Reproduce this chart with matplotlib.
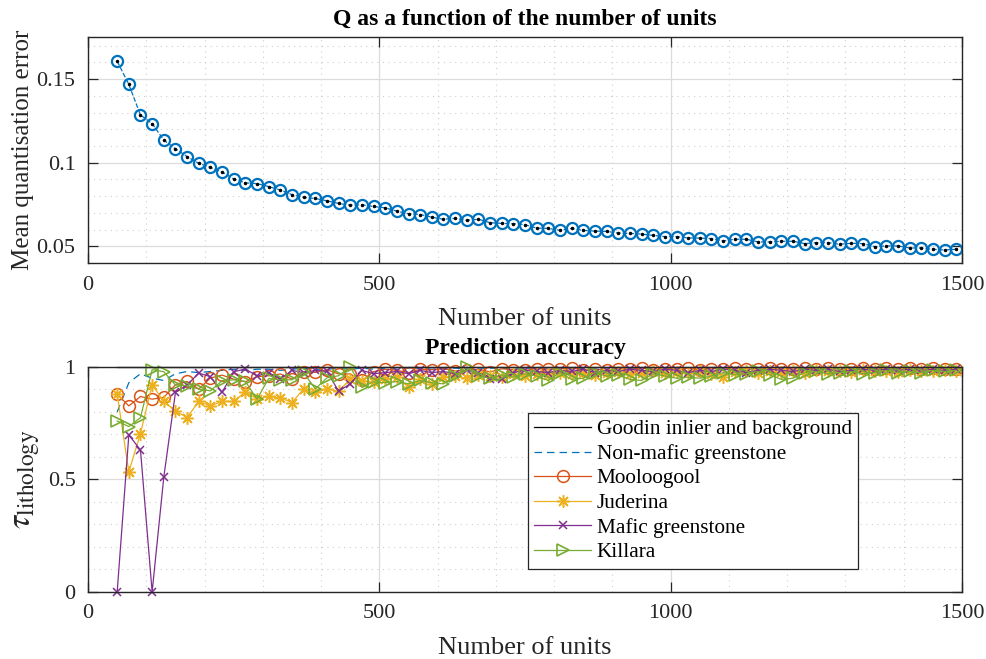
import matplotlib
matplotlib.use("Agg")
import matplotlib.pyplot as plt
from matplotlib.ticker import MultipleLocator

plt.rcParams['font.family'] = ['Liberation Serif', 'DejaVu Serif']
plt.rcParams['mathtext.fontset'] = 'stix'

# number of units (same grid for both panels)
units = list(range(50, 1500, 20))

q_error = [0.1607, 0.1468, 0.1285, 0.1234, 0.1135, 0.1083, 0.1037, 0.0996, 0.0972, 0.0944,
           0.0903, 0.0879, 0.0875, 0.0857, 0.0837, 0.0809, 0.0793, 0.0786, 0.0772, 0.0756,
           0.0746, 0.0748, 0.0738, 0.0730, 0.0710, 0.0695, 0.0690, 0.0674, 0.0662, 0.0667,
           0.0655, 0.0662, 0.0641, 0.0637, 0.0635, 0.0629, 0.0609, 0.0607, 0.0595, 0.0607,
           0.0595, 0.0591, 0.0589, 0.0579, 0.0577, 0.0573, 0.0565, 0.0558, 0.0558, 0.0550,
           0.0549, 0.0546, 0.0532, 0.0542, 0.0542, 0.0526, 0.0526, 0.0530, 0.0530, 0.0516,
           0.0522, 0.0522, 0.0512, 0.0518, 0.0516, 0.0498, 0.0502, 0.0502, 0.0490, 0.0490,
           0.0482, 0.0478, 0.0482]

goodin = [1.0] * 73

non_mafic = [0.80, 0.93, 0.97, 0.95, 0.94, 0.97, 0.98, 0.975, 0.98, 0.985,
             0.99, 0.985, 0.99, 0.99, 0.985, 0.99, 0.995, 0.99, 0.99, 0.995,
             0.99, 0.995, 0.99, 0.995, 0.99, 0.995, 0.995, 0.99, 0.995, 0.995,
             0.99, 0.995, 0.995, 0.995, 0.99, 0.995, 0.995, 0.995, 0.995, 0.99,
             0.995, 0.995, 0.995, 0.995, 0.995, 0.995, 0.99, 0.995, 0.995, 0.995,
             0.995, 0.995, 0.995, 0.995, 0.995, 0.995, 0.995, 0.995, 0.995, 0.995,
             0.995, 0.995, 0.995, 0.995, 0.995, 0.995, 0.995, 0.995, 0.995, 0.995,
             0.995, 0.995, 0.995]

mooloogool = [0.879, 0.827, 0.869, 0.857, 0.865, 0.921, 0.936, 0.902, 0.951, 0.964,
              0.946, 0.934, 0.957, 0.961, 0.969, 0.946, 0.979, 0.976, 0.988, 0.969,
              0.969, 0.940, 0.979, 0.990, 0.985, 0.975, 0.990, 0.988, 0.992, 0.983,
              0.985, 0.990, 0.978, 0.992, 0.988, 0.985, 0.993, 0.990, 0.992, 0.995,
              0.988, 0.990, 0.985, 0.993, 0.990, 0.995, 0.988, 0.992, 0.990, 0.995,
              0.988, 0.993, 0.990, 0.995, 0.992, 0.990, 0.995, 0.993, 0.990, 0.995,
              0.992, 0.995, 0.990, 0.993, 0.995, 0.992, 0.995, 0.993, 0.995, 0.990,
              0.995, 0.993, 0.992]

juderina = [0.879, 0.534, 0.704, 0.921, 0.847, 0.805, 0.775, 0.847, 0.827, 0.847,
            0.847, 0.890, 0.857, 0.869, 0.862, 0.842, 0.902, 0.887, 0.902, 0.893,
            0.946, 0.939, 0.932, 0.945, 0.955, 0.910, 0.945, 0.925, 0.955, 0.960,
            0.950, 0.965, 0.960, 0.955, 0.968, 0.960, 0.970, 0.965, 0.972, 0.968,
            0.975, 0.965, 0.972, 0.978, 0.970, 0.975, 0.980, 0.972, 0.978, 0.975,
            0.980, 0.970, 0.955, 0.978, 0.982, 0.975, 0.980, 0.978, 0.982, 0.975,
            0.985, 0.980, 0.982, 0.978, 0.985, 0.980, 0.983, 0.978, 0.985, 0.982,
            0.980, 0.985, 0.983]

mafic = [0.0, 0.698, 0.631, 0.0, 0.510, 0.887, 0.920, 0.973, 0.957, 0.887,
         0.979, 0.991, 0.960, 0.975, 0.946, 0.985, 0.975, 0.985, 0.980, 0.893,
         0.925, 0.985, 0.970, 0.975, 0.980, 0.970, 0.985, 0.975, 0.980, 0.970,
         0.985, 0.975, 0.945, 0.945, 0.975, 0.985, 0.980, 0.975, 0.985, 0.980,
         0.990, 0.975, 0.985, 0.980, 0.990, 0.985, 0.980, 0.990, 0.985, 0.975,
         0.985, 0.980, 0.990, 0.985, 0.975, 0.985, 0.990, 0.985, 0.980, 0.990,
         0.985, 0.990, 0.980, 0.985, 0.990, 0.985, 0.990, 0.985, 0.990, 0.985,
         0.990, 0.985, 0.990]

killara = [0.760, 0.735, 0.775, 0.988, 0.979, 0.920, 0.917, 0.902, 0.894, 0.939,
           0.943, 0.936, 0.857, 0.949, 0.943, 0.943, 0.976, 0.902, 0.952, 0.961,
           1.000, 0.910, 0.934, 0.930, 0.935, 0.925, 0.940, 0.930, 0.925, 0.960,
           1.000, 0.960, 0.950, 0.965, 0.955, 0.970, 0.960, 0.940, 0.975, 0.945,
           0.950, 0.975, 0.960, 0.965, 0.945, 0.940, 0.970, 0.960, 0.950, 0.955,
           0.950, 0.960, 0.975, 0.965, 0.970, 0.980, 0.965, 0.945, 0.950, 0.975,
           0.980, 0.970, 0.975, 0.980, 0.970, 0.975, 0.985, 0.975, 0.980, 0.975,
           0.985, 0.980, 0.985]

blue = '#0072BD'
orange = '#D95319'
yellow = '#EDB120'
purple = '#7E2F8E'
green = '#77AC30'

fig = plt.figure(figsize=(9.87, 6.59), dpi=100)
ax1 = fig.add_axes([0.0892, 0.6009, 0.8855, 0.3425])
ax2 = fig.add_axes([0.0892, 0.1017, 0.8855, 0.3414])


def style(ax):
    ax.set_xlim(0, 1500)
    ax.xaxis.set_major_locator(MultipleLocator(500))
    ax.xaxis.set_minor_locator(MultipleLocator(100))
    ax.grid(which='major', color='#dcdcdc', linewidth=0.9)
    ax.grid(which='minor', color='#cfcfcf', linestyle=(0, (1, 4)), linewidth=0.8)
    ax.set_axisbelow(True)
    ax.tick_params(which='major', direction='in', length=7, width=0.9,
                   top=True, right=True, labelsize=16, pad=9, colors='#262626')
    ax.tick_params(which='minor', length=0, top=False, right=False, bottom=False, left=False)
    for s in ax.spines.values():
        s.set_color('#262626')
        s.set_linewidth(1.0)
    ax.set_xlabel('Number of units', fontsize=19, color='#262626', labelpad=10)


# top panel
ax1.plot(units, q_error, '--o', color=blue, lw=0.9, ms=8, mfc='none', mew=1.6)
ax1.plot(units, q_error, 'k.', ms=3)
style(ax1)
ax1.set_ylim(0.04, 0.175)
ax1.yaxis.set_minor_locator(MultipleLocator(0.01))
ax1.set_yticks([0.05, 0.1, 0.15])
ax1.set_yticklabels(['0.05', '0.1', '0.15'])
ax1.set_ylabel('Mean quantisation error', fontsize=18, color='#262626', labelpad=2)
ax1.set_title('Q as a function of the number of units', fontsize=17, fontweight='bold', pad=9)

# bottom panel
kw = dict(lw=0.9, mfc='none', clip_on=False)
ax2.plot(units, goodin, '-', color='k', lw=0.9, clip_on=False, label='Goodin inlier and background')
ax2.plot(units, non_mafic, '--', color=blue, lw=0.9, dashes=(6, 4), clip_on=False, label='Non-mafic greenstone')
ax2.plot(units, mooloogool, '-o', color=orange, ms=8.5, mew=1.1, label='Mooloogool', **kw)
ax2.plot(units, juderina, '-', marker=(8, 2, 0), color=yellow, ms=9, mew=1.1, label='Juderina', **kw)
ax2.plot(units, mafic, '-x', color=purple, ms=6, mew=1.1, label='Mafic greenstone', **kw)
ax2.plot(units, killara, '->', color=green, ms=9, mew=1.2, label='Killara', **kw)
style(ax2)
ax2.set_ylim(0, 1)
ax2.set_yticks([0, 0.5, 1])
ax2.set_yticklabels(['0', '0.5', '1'])
ax2.yaxis.set_minor_locator(MultipleLocator(0.1))
ax2.set_ylabel(r'$\tau_{\mathrm{lithology}}$', fontsize=24, color='#262626', labelpad=4)
ax2.set_title('Prediction accuracy', fontsize=17, fontweight='bold', pad=9)

leg = ax2.legend(loc='upper left', bbox_to_anchor=(0.503, 0.795), fontsize=15.3,
                 frameon=True, fancybox=False, edgecolor='#262626', framealpha=1,
                 borderaxespad=0, handlelength=2.7, handletextpad=0.25,
                 labelspacing=0.22, borderpad=0.3)
leg.get_frame().set_linewidth(0.9)

fig.savefig('out.png', dpi=100)
